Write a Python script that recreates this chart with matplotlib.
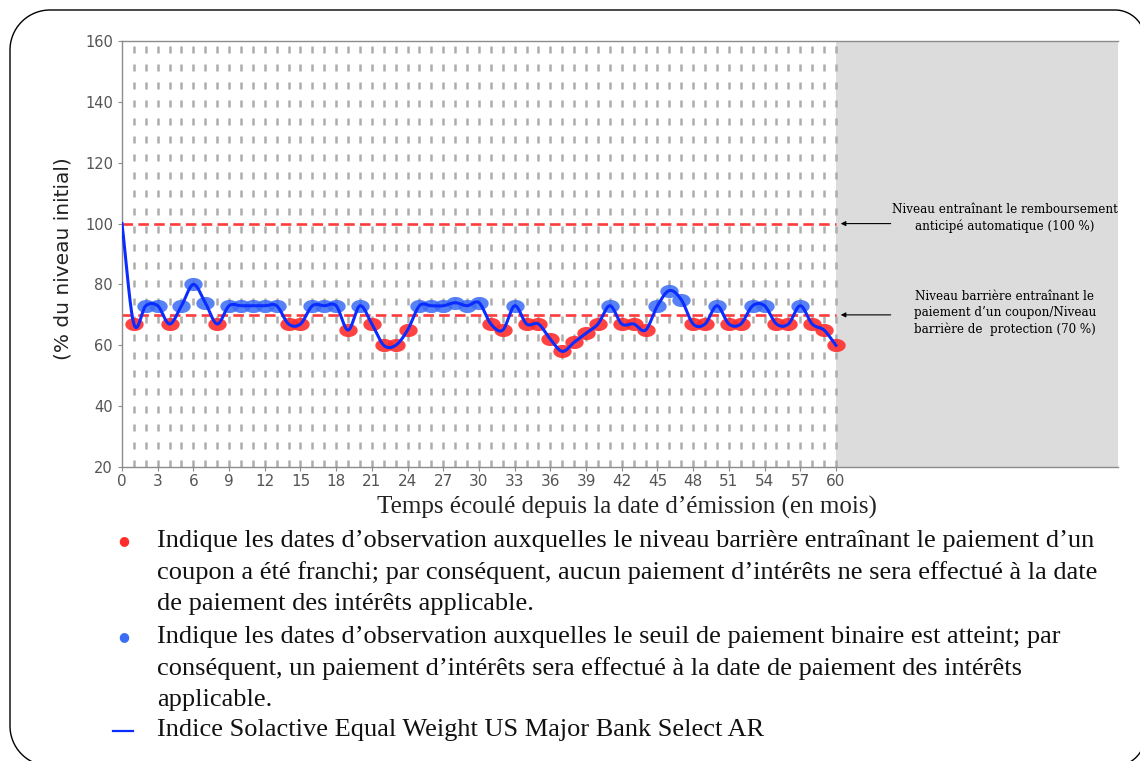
import numpy as np
import matplotlib.pyplot as plt
from matplotlib.path import Path
from matplotlib.patches import Rectangle
from matplotlib.lines import Line2D

# observation months and index level (% of initial level)
months = list(range(0, 61))
index_level = [100, 67, 73, 73, 67, 73, 80, 74, 67, 73,
               73, 73, 73, 73, 67, 67, 73, 73, 73, 65,
               73, 67, 60, 60, 65, 73, 73, 73, 74, 73,
               74, 67, 65, 73, 67, 67, 62, 58, 61, 64,
               67, 73, 67, 67, 65, 73, 78, 75, 67, 67,
               73, 67, 67, 73, 73, 67, 67, 73, 67, 65,
               60]
barrier_level = 70
autocall_level = 100
x_ticks = list(range(0, 61, 3))
y_ticks = list(range(20, 161, 20))

legend_lines = [
    "Indique les dates d\u2019observation auxquelles le niveau barrière entraînant le paiement d\u2019un",
    "coupon a été franchi; par conséquent, aucun paiement d\u2019intérêts ne sera effectué à la date",
    "de paiement des intérêts applicable.",
    "Indique les dates d\u2019observation auxquelles le seuil de paiement binaire est atteint; par",
    "conséquent, un paiement d\u2019intérêts sera effectué à la date de paiement des intérêts",
    "applicable.",
    "Indice Solactive Equal Weight US Major Bank Select AR",
]


def catmull_rom(x, y, n=16):
    # smooth curve passing through every observation (display only)
    x = np.asarray(x, float)
    y = np.asarray(y, float)
    px = np.concatenate([[2 * x[0] - x[1]], x, [2 * x[-1] - x[-2]]])
    py = np.concatenate([[2 * y[0] - y[1]], y, [2 * y[-1] - y[-2]]])
    t = np.linspace(0, 1, n, endpoint=False)
    xs, ys = [], []
    for i in range(1, len(px) - 2):
        for p, out in ((px, xs), (py, ys)):
            p0, p1, p2, p3 = p[i - 1], p[i], p[i + 1], p[i + 2]
            out.extend(0.5 * (2 * p1 + (-p0 + p2) * t
                              + (2 * p0 - 5 * p1 + 4 * p2 - p3) * t ** 2
                              + (-p0 + 3 * p1 - 3 * p2 + p3) * t ** 3))
    xs.append(x[-1])
    ys.append(y[-1])
    return np.array(xs), np.array(ys)


def rounded_frame(left, bottom, right, top, r_left, r_right):
    # outline of a rounded rectangle, in inches
    def arc(cx, cy, r, a0, a1):
        a = np.radians(np.linspace(a0, a1, 30))
        return cx + r * np.cos(a), cy + r * np.sin(a)
    pieces = [
        arc(left + r_left, bottom + r_left, r_left, 270, 180),
        arc(left + r_left, top - r_left, r_left, 180, 90),
        arc(right - r_right, top - r_right, r_right, 90, 0),
        arc(right - r_right, bottom + r_right, r_right, 0, -90),
    ]
    xs = np.concatenate([p[0] for p in pieces] + [pieces[0][0][:1]])
    ys = np.concatenate([p[1] for p in pieces] + [pieces[0][1][:1]])
    return xs, ys


fig = plt.figure(figsize=(11.4, 7.61), dpi=100)
ax = fig.add_axes([0.107, 0.3863, 0.8737, 0.5598])

x_end = 83.7
ax.set_xlim(0, x_end)
ax.set_ylim(20, 160)

# shaded area after maturity
ax.add_patch(Rectangle((60, 20), x_end - 60, 140, color='#dcdcdc', zorder=0, lw=0))

# monthly observation dates
ax.vlines(months[1:], 20, 160, colors='#adadad', linewidth=1.8,
          linestyles=[(0, (2.8, 4.4))], zorder=1)

# barrier levels
for lvl in (autocall_level, barrier_level):
    ax.plot([0, 60], [lvl, lvl], color='#ff3b3b', linewidth=1.9,
            dashes=(4, 2), zorder=2)

# markers
t = np.linspace(0, 2 * np.pi, 40)
ellipse = Path(np.column_stack([1.4 * np.cos(t), np.sin(t)]), closed=True)
obs_x = np.array(months[1:])
obs_y = np.array(index_level[1:])
below = obs_y < barrier_level
ax.scatter(obs_x[below], obs_y[below], marker=ellipse, s=175,
           color='#ff2d2d', alpha=0.9, linewidths=0, zorder=3)
ax.scatter(obs_x[~below], obs_y[~below], marker=ellipse, s=175,
           color='#3a6cf4', alpha=0.85, linewidths=0, zorder=3)

# index path
sx, sy = catmull_rom(months, index_level)
ax.plot(sx, sy, color='#0a2cff', linewidth=2.2, zorder=4)

# annotations
note_font = dict(family='DejaVu Serif', fontsize=8.6, ha='center', va='center',
                 linespacing=1.3)
ax.text(74.2, 101.8, "Niveau entraînant le remboursement\nanticipé automatique (100 %)",
        **note_font)
ax.text(74.2, 70.6, "Niveau barrière entraînant le\npaiement d\u2019un coupon/Niveau\nbarrière de  protection (70 %)",
        **note_font)
for lvl in (autocall_level, barrier_level):
    ax.annotate('', xy=(60.4, lvl), xytext=(64.6, lvl),
                arrowprops=dict(arrowstyle='-|>', color='black', lw=0.8,
                                mutation_scale=7, shrinkA=0, shrinkB=0))

# axes styling
ax.set_xticks(x_ticks)
ax.set_yticks(y_ticks)
ax.spines['right'].set_visible(False)
for side in ('left', 'bottom', 'top'):
    ax.spines[side].set_color('#8c8c8c')
    ax.spines[side].set_linewidth(1.0)
ax.tick_params(axis='both', colors='#8c8c8c', length=3, width=0.8,
               labelcolor='#555555')
ax.tick_params(axis='y', labelsize=10.5)
ax.tick_params(axis='x', labelsize=11, pad=2)

ax.set_ylabel("(% du niveau initial)", fontsize=14.5, family='DejaVu Sans',
              color='#222222')
ax.yaxis.set_label_coords(-0.05, 0.49)
fig.text(0.55, 1 - 507 / 761, "Temps écoulé depuis la date d\u2019émission (en mois)",
         family='Liberation Serif', fontsize=18, ha='center', va='center',
         color='#222222')

# legend below the chart
leg_y = [541, 573, 604, 637, 669, 700, 730]
for txt, yp in zip(legend_lines, leg_y):
    fig.text(157 / 1140, 1 - yp / 761, txt, family='Liberation Serif',
             fontsize=19, ha='left', va='center', color='#111111')
fig.text(124 / 1140, 1 - 541 / 761, '\u25cf', color='#ff2d2d', fontsize=9,
         ha='center', va='center')
fig.text(124 / 1140, 1 - 637 / 761, '\u25cf', color='#3a6cf4', fontsize=9,
         ha='center', va='center')
fig.add_artist(Line2D([113 / 1140, 133 / 1140], [1 - 731 / 761, 1 - 731 / 761],
                      color='#0a2cff', linewidth=1.6))

# rounded frame around the whole picture
fx, fy = rounded_frame(0.10, -0.05, 11.45, 7.51, 0.4, 0.3)
fig.add_artist(Line2D(fx, fy, transform=fig.dpi_scale_trans, color='black',
                      linewidth=1.0, clip_on=False))

fig.savefig('out.png', dpi=100)
